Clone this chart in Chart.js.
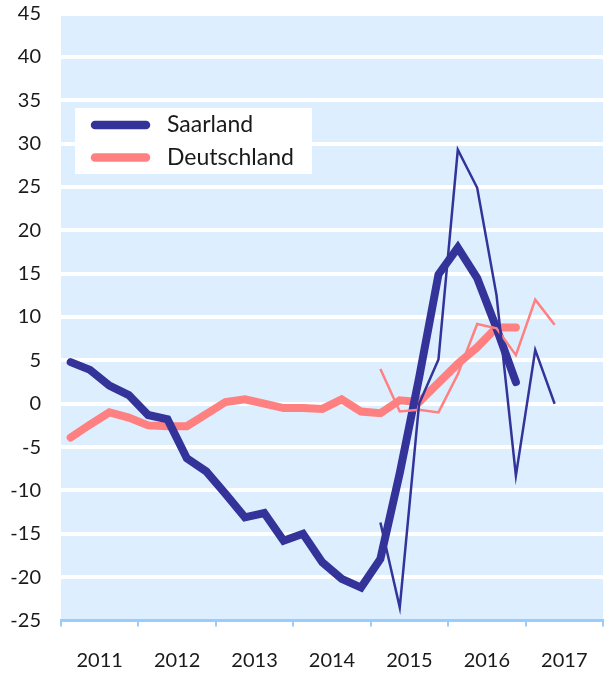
<!DOCTYPE html>
<html lang="de">
<head>
    <meta charset="UTF-8">
    <title>Saarland / Deutschland</title>
    <script src="https://cdn.jsdelivr.net/npm/chart.js"></script>
    <style>
        body {
            margin: 0;
            padding: 0;
            background-color: #fff;
        }
        canvas {
            display: block;
        }
    </style>
</head>
<body>
<canvas id="grafica" width="609" height="674"></canvas>

<script>
    // Quartale der dicken Linien (2011 Q1 - 2016 Q4)
    const quarters = [
        '2011Q1', '2011Q2', '2011Q3', '2011Q4',
        '2012Q1', '2012Q2', '2012Q3', '2012Q4',
        '2013Q1', '2013Q2', '2013Q3', '2013Q4',
        '2014Q1', '2014Q2', '2014Q3', '2014Q4',
        '2015Q1', '2015Q2', '2015Q3', '2015Q4',
        '2016Q1', '2016Q2', '2016Q3', '2016Q4'
    ];
    // Quartale der duennen Linien (2015 Q1 - 2017 Q2)
    const quartersRecent = [
        '2015Q1', '2015Q2', '2015Q3', '2015Q4',
        '2016Q1', '2016Q2', '2016Q3', '2016Q4',
        '2017Q1', '2017Q2'
    ];

    const saarlandTrend = [4.8, 3.9, 2.1, 1.0, -1.3, -1.8, -6.3, -7.8, -10.4, -13.1, -12.6, -15.8,
        -15.0, -18.3, -20.2, -21.2, -17.9, -8.0, 3.0, 14.9, 18.0, 14.5, 8.7, 2.5];
    const deutschlandTrend = [-3.9, -2.4, -1.0, -1.6, -2.5, -2.6, -2.6, -1.2, 0.2, 0.5, 0.0, -0.5,
        -0.5, -0.6, 0.5, -0.9, -1.1, 0.4, 0.2, 2.4, 4.6, 6.5, 8.8, 8.8];

    const saarlandRecent = [-13.7, -23.5, 0.0, 5.1, 29.3, 24.9, 12.5, -8.3, 6.2, 0.0];
    const deutschlandRecent = [4.0, -0.9, -0.7, -1.0, 3.4, 9.2, 8.7, 5.6, 12.0, 9.1];

    const yearLabels = ['2011', '2012', '2013', '2014', '2015', '2016', '2017'];
    const yTicks = [-25, -20, -15, -10, -5, 0, 5, 10, 15, 20, 25, 30, 35, 40, 45];

    const BLAU = '#333399';
    const ROSA = '#ff8080';
    const HINTERGRUND = '#ddeeff';
    const ACHSE = '#99ccff';
    const SCHRIFT = 'Lato, "Noto Sans", sans-serif';

    // Quartal -> Position auf der Zeitachse (Mitte des Quartals)
    function quartalX(q) {
        const jahr = parseInt(q.substring(0, 4), 10);
        const nr = parseInt(q.substring(5), 10);
        return jahr + (nr - 0.5) / 4;
    }

    function punkte(labels, werte) {
        return labels.map((q, i) => ({ x: quartalX(q), y: werte[i] }));
    }

    // Hintergrund der Zeichenflaeche
    const hintergrund = {
        id: 'hintergrund',
        beforeDraw(chart) {
            const { ctx, chartArea } = chart;
            ctx.save();
            ctx.fillStyle = HINTERGRUND;
            ctx.fillRect(chartArea.left, chartArea.top, chartArea.right - chartArea.left, chartArea.bottom - chartArea.top);
            ctx.restore();
        }
    };

    // Legende im Diagramm (nur die dicken Linien)
    const legende = {
        id: 'legende',
        afterDraw(chart) {
            const ctx = chart.ctx;
            const eintraege = [
                { text: 'Saarland', farbe: BLAU, y: 125 },
                { text: 'Deutschland', farbe: ROSA, y: 157.5 }
            ];
            ctx.save();
            ctx.fillStyle = '#ffffff';
            ctx.fillRect(75, 108, 237, 66);
            eintraege.forEach(e => {
                ctx.strokeStyle = e.farbe;
                ctx.lineWidth = 8.5;
                ctx.lineCap = 'round';
                ctx.beginPath();
                ctx.moveTo(95, e.y);
                ctx.lineTo(146, e.y);
                ctx.stroke();
                ctx.fillStyle = '#1a1a1a';
                ctx.font = '23px ' + SCHRIFT;
                ctx.textBaseline = 'middle';
                ctx.textAlign = 'left';
                ctx.fillText(e.text, 167, e.y);
            });
            ctx.restore();
        }
    };

    const ctx = document.getElementById('grafica').getContext('2d');
    const grafica = new Chart(ctx, {
        type: 'line',
        data: {
            datasets: [
                {
                    label: 'Saarland',
                    data: punkte(quartersRecent, saarlandRecent),
                    borderColor: BLAU,
                    borderWidth: 2.5,
                    order: 1
                },
                {
                    label: 'Deutschland',
                    data: punkte(quartersRecent, deutschlandRecent),
                    borderColor: ROSA,
                    borderWidth: 2.5,
                    order: 2
                },
                {
                    label: 'Saarland',
                    data: punkte(quarters, saarlandTrend),
                    borderColor: BLAU,
                    borderWidth: 8,
                    borderCapStyle: 'round',
                    order: 3
                },
                {
                    label: 'Deutschland',
                    data: punkte(quarters, deutschlandTrend),
                    borderColor: ROSA,
                    borderWidth: 8,
                    borderCapStyle: 'round',
                    order: 4
                }
            ]
        },
        options: {
            responsive: false,
            animation: false,
            devicePixelRatio: 1,
            layout: {
                padding: { top: 13.5, right: 6, bottom: 0, left: 0 }
            },
            elements: {
                point: { radius: 0 },
                line: { tension: 0, fill: false }
            },
            plugins: {
                legend: { display: false },
                tooltip: { enabled: false }
            },
            scales: {
                x: {
                    type: 'linear',
                    min: 2011,
                    max: 2018,
                    afterBuildTicks(scale) {
                        const ticks = [];
                        yearLabels.forEach(j => {
                            ticks.push({ value: Number(j) });
                            ticks.push({ value: Number(j) + 0.5 });
                        });
                        ticks.push({ value: Number(yearLabels[yearLabels.length - 1]) + 1 });
                        scale.ticks = ticks;
                    },
                    afterFit(scale) {
                        scale.height = 53.5;
                        scale.paddingLeft = 0;
                        scale.paddingRight = 0;
                    },
                    border: { color: ACHSE, width: 3 },
                    grid: {
                        drawOnChartArea: false,
                        drawTicks: true,
                        tickLength: 6,
                        lineWidth: 2,
                        color: c => (c.tick && Number.isInteger(c.tick.value)) ? ACHSE : 'rgba(0,0,0,0)'
                    },
                    ticks: {
                        autoSkip: false,
                        maxRotation: 0,
                        padding: 22,
                        color: '#1a1a1a',
                        font: { family: SCHRIFT, size: 20 },
                        callback: v => Number.isInteger(v) ? '' : String(Math.floor(v))
                    }
                },
                y: {
                    min: -25,
                    max: 45,
                    afterBuildTicks(scale) {
                        scale.ticks = yTicks.map(v => ({ value: v }));
                    },
                    afterFit(scale) {
                        scale.width = 61;
                        scale.paddingTop = 0;
                        scale.paddingBottom = 0;
                    },
                    border: { display: false },
                    grid: {
                        drawTicks: false,
                        lineWidth: 4,
                        color: c => (c.tick && c.tick.value === -25) ? 'rgba(0,0,0,0)' : '#ffffff'
                    },
                    ticks: {
                        padding: 20,
                        color: '#1a1a1a',
                        font: { family: SCHRIFT, size: 20 }
                    }
                }
            }
        },
        plugins: [hintergrund, legende]
    });
</script>
</body>
</html>
